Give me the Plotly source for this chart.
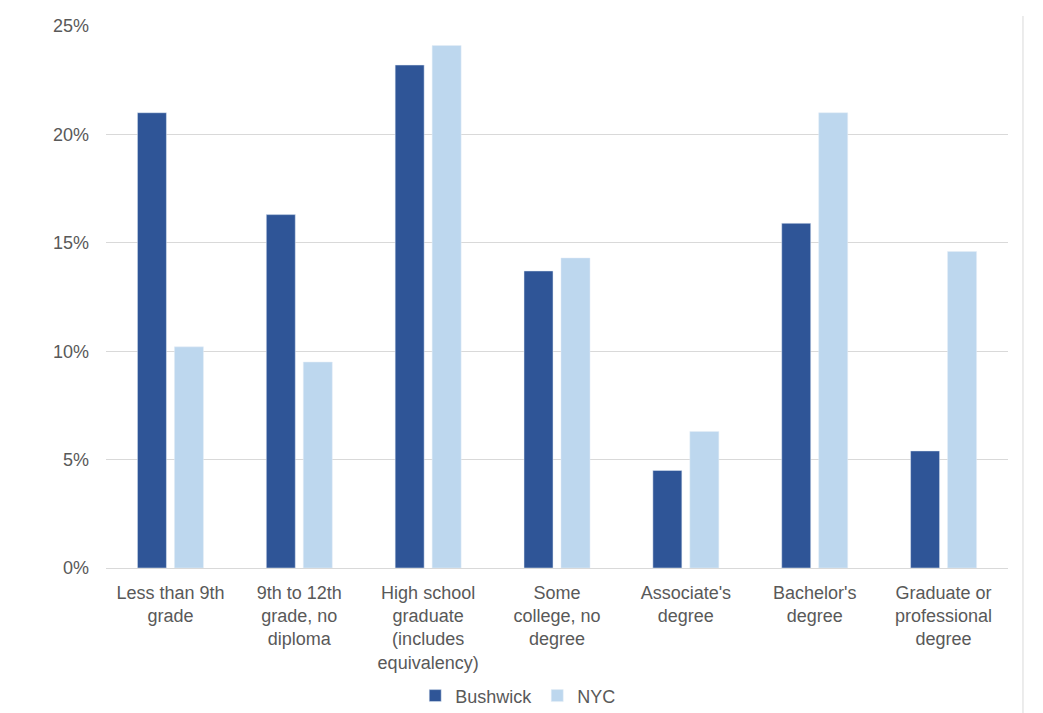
import plotly.graph_objects as go

categories = ["Less than 9th<br>grade", "9th to 12th<br>grade, no<br>diploma",
              "High school<br>graduate<br>(includes<br>equivalency)",
              "Some<br>college, no<br>degree", "Associate's<br>degree",
              "Bachelor's<br>degree", "Graduate or<br>professional<br>degree"]
bushwick = [21.0, 16.3, 23.2, 13.7, 4.5, 15.9, 5.4]
nyc = [10.2, 9.5, 24.1, 14.3, 6.3, 21.0, 14.6]
y_ticks = [0, 5, 10, 15, 20, 25]
y_ticklabels = ["0%", "5%", "10%", "15%", "20%", "25%"]

FONT = "Liberation Sans, Arial, sans-serif"
GREY = "#595959"

fig = go.Figure()
fig.add_trace(go.Bar(name="Bushwick", x=categories, y=bushwick, marker_color="#2F5597"))
fig.add_trace(go.Bar(name="NYC", x=categories, y=nyc, marker_color="#BDD7EE"))

fig.update_layout(
    width=1043, height=713,
    margin=dict(l=98, r=43, t=18, b=153, autoexpand=False),
    plot_bgcolor="white", paper_bgcolor="white",
    barmode="group", bargap=0.426, bargroupgap=0.216,
    font=dict(family=FONT, size=18, color=GREY),
    showlegend=True,
    legend=dict(orientation="h", x=0.457, xanchor="center", y=-0.236, yanchor="middle",
                font=dict(size=18, color=GREY), itemwidth=30),
    yaxis=dict(range=[0, 25], tickvals=y_ticks, ticktext=y_ticklabels,
               showgrid=True, gridcolor="#D9D9D9", gridwidth=1, zeroline=False,
               showline=False, ticks="", ticklabelstandoff=16, automargin=False),
    xaxis=dict(showline=True, linecolor="#D9D9D9", linewidth=1, ticks="",
               tickangle=0, ticklabelstandoff=8, automargin=False),
)
fig.add_shape(type="line", xref="paper", yref="paper", x0=1.0166, x1=1.0166,
              y0=1.0185, y1=-0.282, line=dict(color="#D9D9D9", width=1))

fig.write_html("out.html")
